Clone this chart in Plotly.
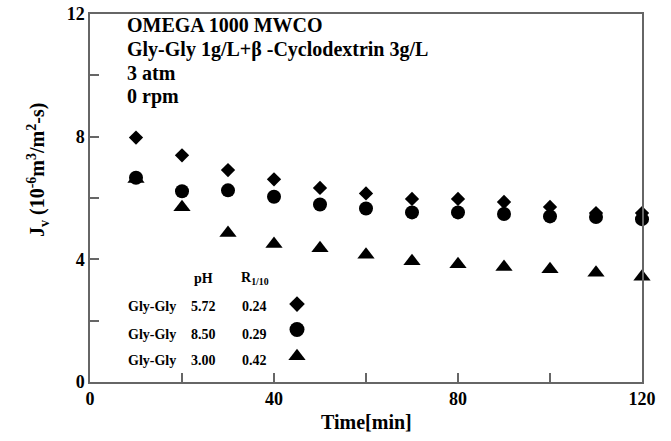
import plotly.graph_objects as go

time_min = [10, 20, 30, 40, 50, 60, 70, 80, 90, 100, 110, 120]
jv_ph572 = [7.97, 7.39, 6.91, 6.61, 6.33, 6.15, 5.97, 5.97, 5.87, 5.71, 5.51, 5.51]
jv_ph850 = [6.66, 6.22, 6.25, 6.04, 5.79, 5.66, 5.53, 5.53, 5.48, 5.40, 5.38, 5.31]
jv_ph300 = [6.62, 5.70, 4.86, 4.50, 4.36, 4.15, 3.94, 3.84, 3.75, 3.68, 3.56, 3.43]

x_tick_vals = [0, 40, 80, 120]
y_tick_vals = [0, 4, 8, 12]

legend_names = ["Gly-Gly", "Gly-Gly", "Gly-Gly"]
legend_ph = ["5.72", "8.50", "3.00"]
legend_r = ["0.24", "0.29", "0.42"]
legend_symbols = ["diamond", "circle", "triangle-up"]
legend_marker_y = [2.54, 1.71, 0.84]
legend_text_y = [2.47, 1.55, 0.70]
legend_x = 45.0

header_lines = ["OMEGA 1000 MWCO", "Gly-Gly 1g/L+β -Cyclodextrin 3g/L", "3 atm", "0 rpm"]

FONT = "Liberation Serif"
SIZES = {"diamond": 11, "circle": 14, "triangle-up": 15}
LEGEND_SIZES = {"diamond": 12, "circle": 15, "triangle-up": 15}
fig = go.Figure()

for ys, sym in [(jv_ph572, "diamond"), (jv_ph850, "circle"), (jv_ph300, "triangle-up")]:
    fig.add_trace(go.Scatter(x=time_min, y=ys, mode="markers",
                             marker=dict(symbol=sym, size=SIZES[sym], color="black"),
                             showlegend=False, cliponaxis=False))

# legend symbols
for sym, yv in zip(legend_symbols, legend_marker_y):
    fig.add_trace(go.Scatter(x=[legend_x], y=[yv], mode="markers",
                             marker=dict(symbol=sym, size=LEGEND_SIZES[sym], color="black"),
                             showlegend=False))

ann = []
# header
for i, t in enumerate(header_lines):
    ann.append(dict(xref="paper", yref="paper", x=(125 - 90) / 552, y=(382 - (25 + 24 * i)) / 368,
                    xanchor="left", yanchor="middle", text="<b>%s</b>" % t, showarrow=False,
                    font=dict(family=FONT, size=20, color="black")))
# legend table header
ann.append(dict(x=24.7, y=3.38, text="<b>pH</b>", showarrow=False, xanchor="center", yanchor="middle",
                font=dict(family=FONT, size=14, color="black")))
ann.append(dict(x=35.9, y=3.38, text="<b>R<sub>1/10</sub></b>", showarrow=False, xanchor="center", yanchor="middle",
                font=dict(family=FONT, size=14, color="black")))
for n, p, r, yv in zip(legend_names, legend_ph, legend_r, legend_text_y):
    ann.append(dict(x=13.5, y=yv, text="<b>%s</b>" % n, showarrow=False, xanchor="center", yanchor="middle",
                    font=dict(family=FONT, size=14, color="black")))
    ann.append(dict(x=24.7, y=yv, text="<b>%s</b>" % p, showarrow=False, xanchor="center", yanchor="middle",
                    font=dict(family=FONT, size=14, color="black")))
    ann.append(dict(x=35.8, y=yv, text="<b>%s</b>" % r, showarrow=False, xanchor="center", yanchor="middle",
                    font=dict(family=FONT, size=14, color="black")))
# y-axis title
ann.append(dict(xref="paper", yref="paper", x=(38 - 90) / 552, y=(382 - 170) / 368, textangle=-90,
                text="<b>J<sub>v</sub> (10<sup>-6</sup>m<sup>3</sup>/m<sup>2</sup>-s)</b>",
                showarrow=False, xanchor="center", yanchor="middle",
                font=dict(family=FONT, size=20, color="black")))
# x-axis title
ann.append(dict(xref="paper", yref="paper", x=(366 - 90) / 552, y=(382 - 422) / 368,
                text="<b>Time[min]</b>", showarrow=False, xanchor="center", yanchor="middle",
                font=dict(family=FONT, size=20, color="black")))

axis_common = dict(ticks="inside", ticklen=9, tickcolor="#666", tickwidth=1.5,
                   showline=True, linecolor="#666", linewidth=1.5, mirror=True,
                   showgrid=False, zeroline=False, automargin=False,
                   tickfont=dict(family=FONT, size=18, color="black"))

fig.update_layout(
    template="none",
    width=671, height=441,
    margin=dict(l=90, r=29, t=14, b=59, autoexpand=False),
    plot_bgcolor="white", paper_bgcolor="white",
    font=dict(family=FONT, size=18, color="black"),
    annotations=ann,
    xaxis=dict(range=[0, 120], tickvals=x_tick_vals,
               ticktext=["<b>%d</b>" % v for v in x_tick_vals],
               minor=dict(dtick=20, tick0=0, ticks="inside", ticklen=9, tickcolor="#666",
                          tickwidth=1.5, showgrid=False),
               **axis_common),
    yaxis=dict(range=[0, 12], tickvals=y_tick_vals,
               ticktext=["<b>%d</b>" % v for v in y_tick_vals],
               minor=dict(dtick=2, tick0=0, ticks="inside", ticklen=9, tickcolor="#666",
                          tickwidth=1.5, showgrid=False),
               **axis_common),
)

fig.write_html("out.html", config={"displayModeBar": False},
               post_script="document.body.style.margin='0';")
